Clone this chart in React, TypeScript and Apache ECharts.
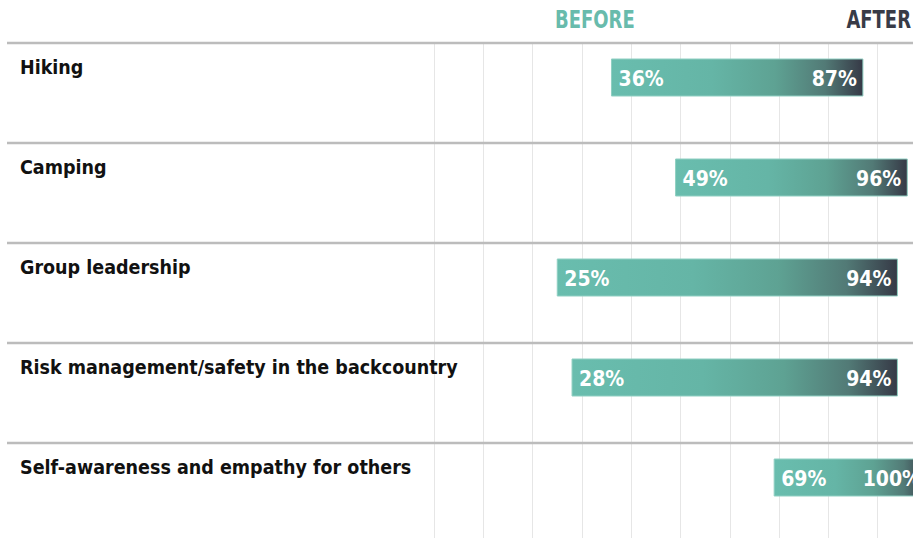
import React, { useEffect, useRef } from "react";
import * as echarts from "echarts";

const categories = [
  "Hiking",
  "Camping",
  "Group leadership",
  "Risk management/safety in the backcountry",
  "Self-awareness and empathy for others",
];
const beforeValues = [36, 49, 25, 28, 69];
const afterValues = [87, 96, 94, 94, 100];
const headerLabels = ["BEFORE", "AFTER"];

const FONT = '"DejaVu Sans Condensed", "DejaVu Sans", sans-serif';
const TEAL = "#68bbac";
const DARK = "#383b47";

export default function App() {
  const ref = useRef<HTMLDivElement>(null);

  useEffect(() => {
    if (!ref.current) return;
    const chart = echarts.init(ref.current, undefined, { renderer: "svg" });
    const data = categories.map((_, i) => [i, beforeValues[i], afterValues[i]]);

    chart.setOption({
      animation: false,
      backgroundColor: "#ffffff",
      grid: {
        left: 434,
        top: 43,
        width: 493,
        height: 500,
        containLabel: false,
        outerBoundsMode: "none",
      },
      xAxis: {
        type: "value",
        min: 0,
        max: 100,
        interval: 10,
        axisLine: { show: false },
        axisTick: { show: false },
        axisLabel: { show: false },
        splitLine: { show: true, lineStyle: { color: "#e6e6e6", width: 1 } },
      },
      yAxis: {
        type: "category",
        inverse: true,
        data: categories,
        axisLine: { show: false },
        axisTick: { show: false },
        splitLine: { show: false },
        axisLabel: {
          interval: 0,
          showMinLabel: true,
          showMaxLabel: true,
          hideOverlap: false,
          align: "left",
          margin: 414,
          verticalAlign: "middle",
          formatter: (v: string) => "{a|" + v + "}\n{b| }",
          rich: {
            a: {
              fontFamily: FONT,
              fontWeight: "bold",
              fontSize: 19.5,
              lineHeight: 20,
              color: "#111111",
            },
            b: {
              fontSize: 10,
              lineHeight: 51,
            },
          },
        },
      },
      graphic: [
        {
          type: "text",
          x: 555,
          y: 19,
          scaleX: 0.8,
          style: {
            text: headerLabels[0],
            fontFamily: FONT,
            fontWeight: "bold",
            fontSize: 25,
            fill: TEAL,
            align: "left",
            verticalAlign: "middle",
          },
        },
        {
          type: "text",
          x: 911,
          y: 19,
          scaleX: 0.8,
          style: {
            text: headerLabels[1],
            fontFamily: FONT,
            fontWeight: "bold",
            fontSize: 25,
            fill: DARK,
            align: "right",
            verticalAlign: "middle",
          },
        },
      ],
      series: [
        {
          type: "custom",
          clip: false,
          encode: { x: [1, 2], y: 0 },
          data,
          renderItem: (params: any, api: any) => {
            const yIdx = api.value(0);
            const s = api.coord([api.value(1), yIdx]);
            const e = api.coord([api.value(2), yIdx]);
            const band = api.size([0, 1])[1];
            const cy = s[1] - band * 0.155;
            const h = 37;
            const sepY = s[1] - band / 2;
            return {
              type: "group",
              children: [
                {
                  type: "line",
                  shape: { x1: 7, y1: sepY, x2: api.getWidth(), y2: sepY },
                  style: { stroke: "#bcbcbc", lineWidth: 2.5 },
                },
                {
                  type: "rect",
                  shape: { x: s[0], y: cy - h / 2, width: e[0] - s[0], height: h },
                  style: {
                    fill: new echarts.graphic.LinearGradient(0, 0, 1, 0, [
                      { offset: 0, color: "#69bdae" },
                      { offset: 0.4, color: "#65b5a6" },
                      { offset: 0.65, color: "#5ea293" },
                      { offset: 0.85, color: "#527a76" },
                      { offset: 1, color: "#363946" },
                    ]),
                    stroke: "#8fcfc2",
                    lineWidth: 1,
                  },
                },
                {
                  type: "text",
                  x: s[0] + 7,
                  y: cy + 1,
                  style: {
                    text: api.value(1) + "%",
                    fontFamily: FONT,
                    fontWeight: "bold",
                    fontSize: 21,
                    fill: "#ffffff",
                    align: "left",
                    verticalAlign: "middle",
                  },
                },
                {
                  type: "text",
                  x: e[0] - 6,
                  y: cy + 1,
                  style: {
                    text: api.value(2) + "%",
                    fontFamily: FONT,
                    fontWeight: "bold",
                    fontSize: 21,
                    fill: "#ffffff",
                    align: "right",
                    verticalAlign: "middle",
                  },
                },
              ],
            };
          },
        },
      ],
    });

    return () => chart.dispose();
  }, []);

  return (
    <div
      ref={ref}
      style={{ position: "absolute", left: 0, top: 0, width: 913, height: 538 }}
    />
  );
}
